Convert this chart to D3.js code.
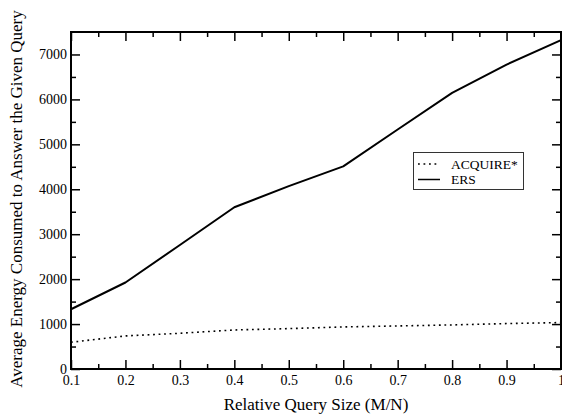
<!DOCTYPE html>
<html>
<head>
<meta charset="utf-8">
<script src="https://cdn.jsdelivr.net/npm/d3@7"></script>
<style>
  body { margin: 0; background: #fff; }
  svg text { font-family: "Liberation Serif", "DejaVu Serif", serif; fill: #000; }
</style>
</head>
<body>
<div id="chart"></div>
<script>
var querySize = [0.1, 0.2, 0.3, 0.4, 0.5, 0.6, 0.7, 0.8, 0.9, 1.0];
var acquire = [595, 736, 795, 869, 899, 936, 958, 981, 1011, 1033];
var ers = [1330, 1925, 2760, 3600, 4070, 4510, 5330, 6146, 6775, 7318];
var xTicks = [0.1, 0.2, 0.3, 0.4, 0.5, 0.6, 0.7, 0.8, 0.9, 1];
var yTicks = [0, 1000, 2000, 3000, 4000, 5000, 6000, 7000];
var seriesNames = ["ACQUIRE*", "ERS"];

var width = 562;
var height = 418;
// note: "top" is taken by window.top, so prefix these
var pLeft = 71, pRight = 561, pTop = 32, pBottom = 369;

var svg = d3.select("#chart").append("svg")
    .attr("width", width)
    .attr("height", height);

var x = d3.scaleLinear().domain([0.1, 1]).range([pLeft, pRight]);
var y = d3.scaleLinear().domain([0, 7500]).range([pBottom, pTop]);

// minor ticks halfway between the labelled ones
var xMinor = d3.range(0.15, 1, 0.1);
var yMinor = d3.range(500, 7500, 1000);

function tickFormatX(d) { return d === 1 ? "1" : d3.format(".1f")(d); }

function noDomain(g) { g.select(".domain").remove(); }

// bottom + top
svg.append("g").attr("transform", "translate(0," + pBottom + ")")
    .call(d3.axisBottom(x).tickValues(xTicks).tickFormat(tickFormatX).tickSizeInner(-9).tickSizeOuter(0).tickPadding(6))
    .call(noDomain)
    .call(g => g.selectAll(".tick text").attr("y", 6));
svg.append("g").attr("transform", "translate(0," + pBottom + ")")
    .call(d3.axisBottom(x).tickValues(xMinor).tickFormat("").tickSizeInner(-5).tickSizeOuter(0))
    .call(noDomain);
svg.append("g").attr("transform", "translate(0," + pTop + ")")
    .call(d3.axisTop(x).tickValues(xTicks).tickFormat("").tickSizeInner(-9).tickSizeOuter(0))
    .call(noDomain);
svg.append("g").attr("transform", "translate(0," + pTop + ")")
    .call(d3.axisTop(x).tickValues(xMinor).tickFormat("").tickSizeInner(-5).tickSizeOuter(0))
    .call(noDomain);

// left + right
svg.append("g").attr("transform", "translate(" + pLeft + ",0)")
    .call(d3.axisLeft(y).tickValues(yTicks).tickFormat(d3.format("d")).tickSizeInner(-9).tickSizeOuter(0))
    .call(noDomain)
    .call(g => g.selectAll(".tick text").attr("x", -4));
svg.append("g").attr("transform", "translate(" + pLeft + ",0)")
    .call(d3.axisLeft(y).tickValues(yMinor).tickFormat("").tickSizeInner(-5).tickSizeOuter(0))
    .call(noDomain);
svg.append("g").attr("transform", "translate(" + pRight + ",0)")
    .call(d3.axisRight(y).tickValues(yTicks).tickFormat("").tickSizeInner(-9).tickSizeOuter(0))
    .call(noDomain);
svg.append("g").attr("transform", "translate(" + pRight + ",0)")
    .call(d3.axisRight(y).tickValues(yMinor).tickFormat("").tickSizeInner(-5).tickSizeOuter(0))
    .call(noDomain);

svg.selectAll(".tick line").attr("stroke", "#000").attr("stroke-width", 1.5);
svg.selectAll(".tick text").style("font-size", "14px").style("font-family", "Liberation Serif, serif");

svg.append("rect")
    .attr("x", pLeft).attr("y", pTop)
    .attr("width", pRight - pLeft).attr("height", pBottom - pTop)
    .attr("fill", "none").attr("stroke", "#000").attr("stroke-width", 2);

var line = d3.line()
    .x((d, i) => x(querySize[i]))
    .y(d => y(d));

svg.append("path").datum(acquire)
    .attr("d", line)
    .attr("fill", "none").attr("stroke", "#000")
    .attr("stroke-width", 1.6).attr("stroke-dasharray", "1.8,3.7");

svg.append("path").datum(ers)
    .attr("d", line)
    .attr("fill", "none").attr("stroke", "#000")
    .attr("stroke-width", 2).attr("stroke-linejoin", "round");

// legend
var legend = svg.append("g");
legend.append("rect")
    .attr("x", 413.5).attr("y", 152.5).attr("width", 110).attr("height", 37)
    .attr("fill", "#fff").attr("stroke", "#333").attr("stroke-width", 1);
legend.append("line")
    .attr("x1", 418).attr("x2", 440).attr("y1", 164).attr("y2", 164)
    .attr("stroke", "#000").attr("stroke-width", 1.6).attr("stroke-dasharray", "1.8,3.7");
legend.append("line")
    .attr("x1", 418).attr("x2", 440).attr("y1", 179.5).attr("y2", 179.5)
    .attr("stroke", "#000").attr("stroke-width", 1.5);
legend.selectAll("text.leg").data(seriesNames).enter().append("text")
    .attr("class", "leg")
    .attr("x", 451)
    .attr("y", (d, i) => 168.5 + i * 15.5)
    .style("font-size", "13.5px")
    .text(d => d);

// axis titles
svg.append("text")
    .attr("x", 316).attr("y", 410)
    .attr("text-anchor", "middle")
    .style("font-size", "17px")
    .text("Relative Query Size (M/N)");

svg.append("text")
    .attr("transform", "translate(22,199) rotate(-90)")
    .attr("text-anchor", "middle")
    .style("font-size", "17px")
    .text("Average Energy Consumed to Answer the Given Query");
</script>
</body>
</html>
